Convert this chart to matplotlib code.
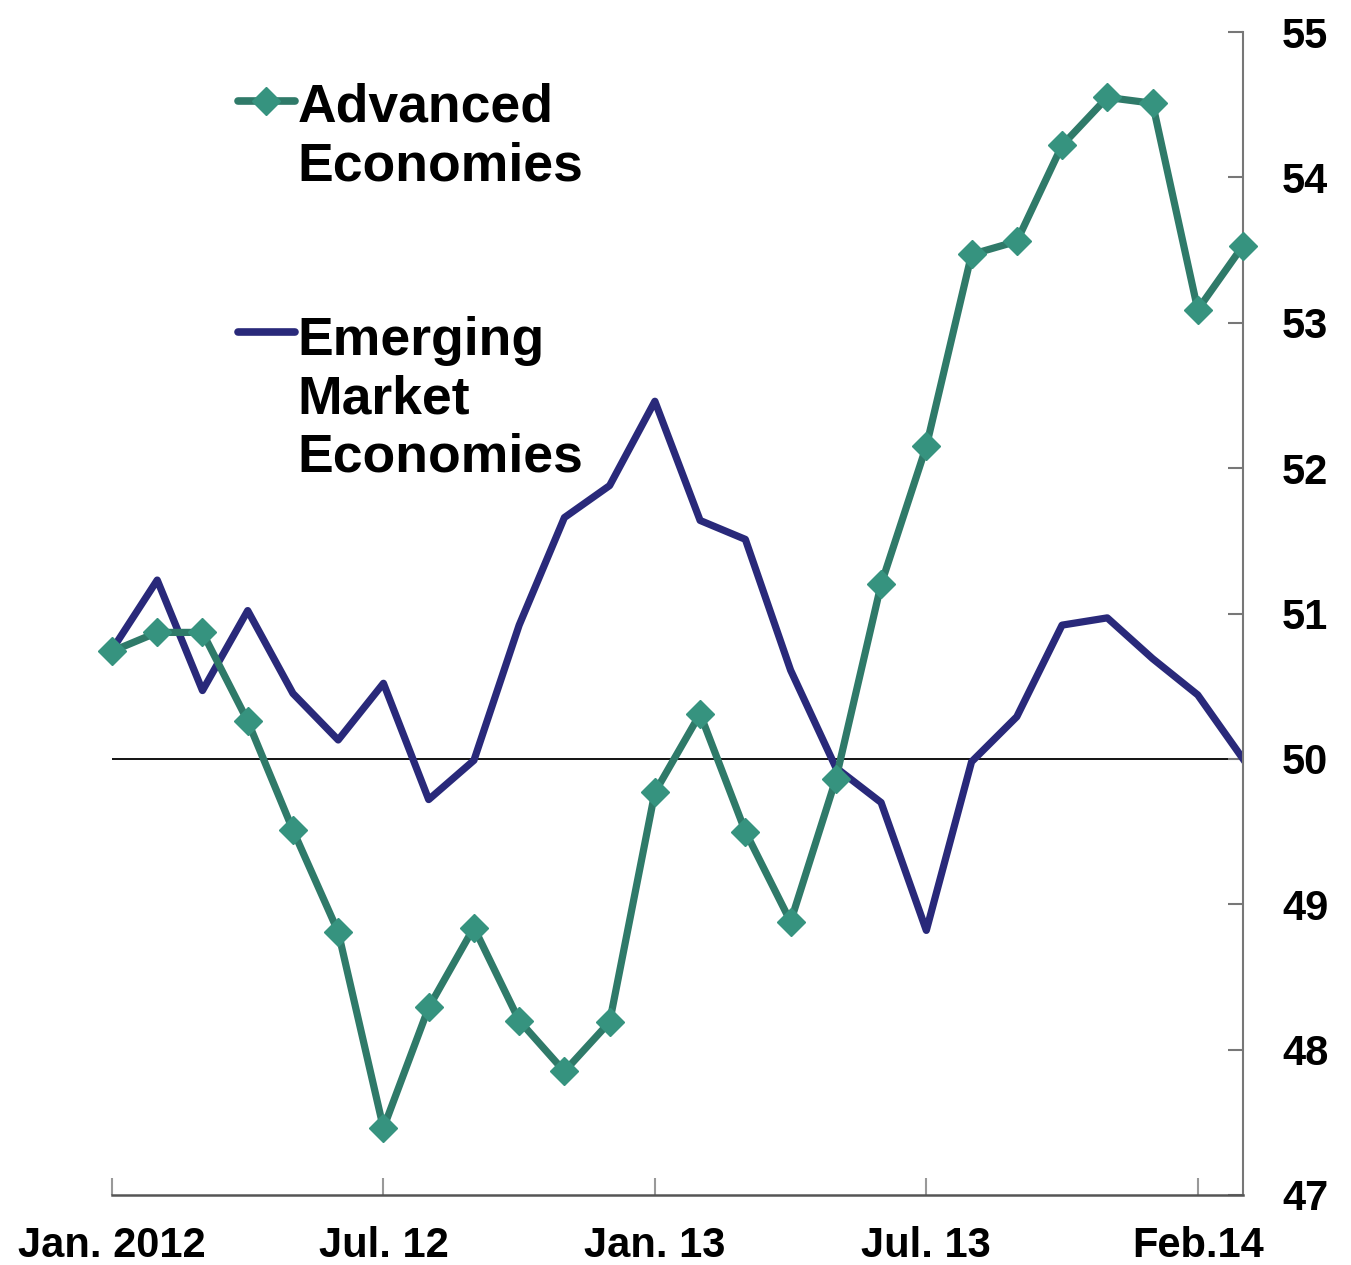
import numpy as np
import matplotlib.pyplot as plt

# month index 0 = Jan. 2012 ... 25 = Feb. 2014
months = np.arange(26)
advanced = [50.74, 50.87, 50.87, 50.26, 49.51, 48.81, 47.46, 48.29, 48.84, 48.20,
            47.85, 48.19, 49.77, 50.31, 49.50, 48.88, 49.86, 51.20, 52.15, 53.47,
            53.56, 54.22, 54.55, 54.51, 53.09, 53.53]
emerging = [50.75, 51.23, 50.47, 51.02, 50.45, 50.13, 50.52, 49.72, 49.99, 50.92,
            51.66, 51.88, 52.46, 51.64, 51.51, 50.61, 49.94, 49.70, 48.82, 49.98,
            50.29, 50.92, 50.97, 50.69, 50.44, 50.00]
tick_pos = [0, 6, 12, 18, 24]
tick_labels = ['Jan. 2012', 'Jul. 12', 'Jan. 13', 'Jul. 13', 'Feb.14']
y_ticks = [47, 48, 49, 50, 51, 52, 53, 54, 55]

teal = '#2f7a69'
teal_mk = '#36937f'
navy = '#29297a'
sans = ['Liberation Sans', 'DejaVu Sans']

fig = plt.figure(figsize=(13.51, 12.65), dpi=100)
ax = fig.add_axes([112 / 1351, 1 - 1195 / 1265, 1131 / 1351, 1163 / 1265])

ax.axhline(50, color='black', lw=1.3, zorder=1)
ax.plot(months, emerging, color=navy, lw=5.2, zorder=2)
ax.plot(months, advanced, color=teal, lw=5.2, marker='D', ms=14,
        mfc=teal_mk, mec=teal_mk, zorder=3, clip_on=False)

ax.set_xlim(0, 25)
ax.set_ylim(47, 55)

for s in ['left', 'top']:
    ax.spines[s].set_visible(False)
ax.spines['right'].set_color('#777777')
ax.spines['bottom'].set_color('#555555')
ax.spines['right'].set_linewidth(1.5)
ax.spines['bottom'].set_linewidth(1.8)

ax.yaxis.tick_right()
ax.set_yticks(y_ticks)
ax.set_yticklabels([str(v) for v in y_ticks])
ax.set_xticks(tick_pos)
ax.set_xticklabels(tick_labels)
ax.tick_params(axis='y', direction='in', length=11, width=1.5, color='#777777', pad=28)
ax.tick_params(axis='x', direction='in', length=12, width=1.5, color='#999999', pad=22)
for lab in ax.get_xticklabels() + ax.get_yticklabels():
    lab.set_family(sans)
    lab.set_fontweight('bold')
    lab.set_fontsize(30)

# legend drawn by hand so the key sits on the first text line
ax.plot([0.111, 0.162], [0.9407, 0.9407], transform=ax.transAxes, color=teal,
        lw=5.5, solid_capstyle='round', clip_on=False)
ax.plot([0.1365], [0.9407], transform=ax.transAxes, marker='D', ms=14,
        color=teal_mk, clip_on=False)
ax.plot([0.111, 0.162], [0.742, 0.742], transform=ax.transAxes, color=navy,
        lw=5.5, solid_capstyle='round', clip_on=False)
ax.text(0.164, 0.8727, 'Advanced\nEconomies', transform=ax.transAxes,
        fontsize=38.5, fontweight='bold', family=sans,
        va='baseline', ha='left', linespacing=1.22)
ax.text(0.164, 0.6217, 'Emerging\nMarket\nEconomies', transform=ax.transAxes,
        fontsize=38.5, fontweight='bold', family=sans,
        va='baseline', ha='left', linespacing=1.22)

fig.savefig('out.png', dpi=100)
